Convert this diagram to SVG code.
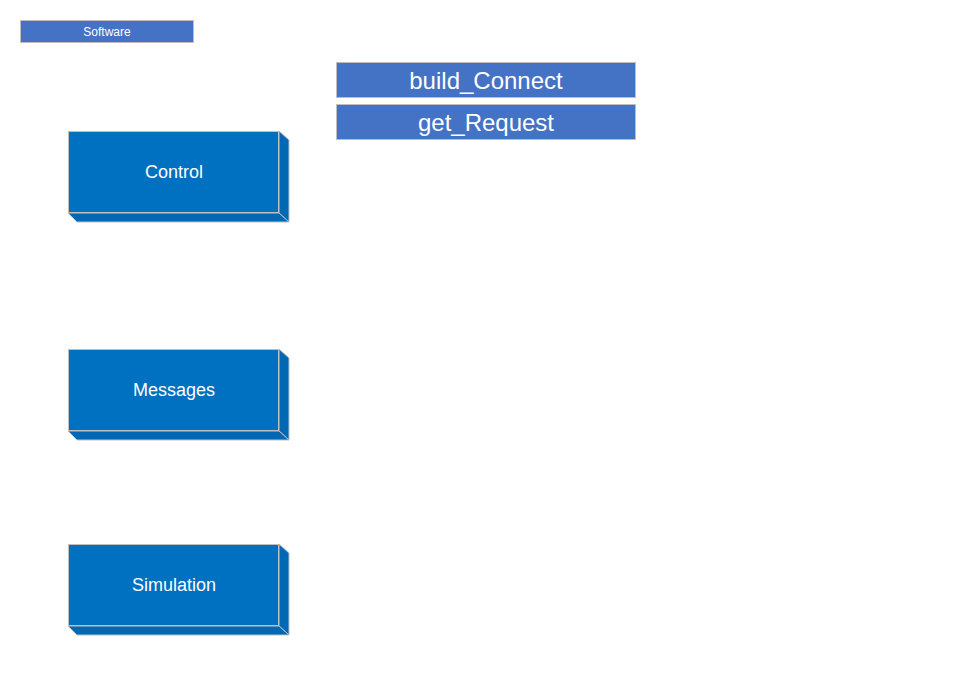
<svg xmlns="http://www.w3.org/2000/svg" width="961" height="678" viewBox="0 0 961 678">
<style>
.bar{fill:#4472C4;stroke:#BFBFBF;stroke-width:1}
.face{fill:#0070C0;stroke:#BFBFBF;stroke-width:1}
.side{fill:#0068B4;stroke:#BFBFBF;stroke-width:1}
.t{fill:#fff;font-family:"Liberation Sans",Arial,sans-serif;text-anchor:middle;dominant-baseline:central}
</style>
<rect width="961" height="678" fill="#fff"/>
<g id="software"><rect class="bar" x="20.5" y="20.5" width="173" height="22"/><text class="t" x="107" y="32" font-size="12">Software</text></g>
<g id="build_Connect"><rect class="bar" x="336.5" y="62.5" width="299" height="35"/><text class="t" x="486" y="80" font-size="24">build_Connect</text></g>
<g id="get_Request"><rect class="bar" x="336.5" y="104.5" width="299" height="35"/><text class="t" x="486" y="122" font-size="24">get_Request</text></g>
<g id="control">
<polygon class="side" points="279,131 289,140 289,222 279,213"/>
<polygon class="side" points="68,213 279,213 289,222 77,222"/>
<rect class="face" x="68.5" y="131.5" width="210" height="81"/>
<text class="t" x="174" y="172" font-size="18">Control</text></g>
<g id="messages">
<polygon class="side" points="279,349 289,358 289,440 279,431"/>
<polygon class="side" points="68,431 279,431 289,440 77,440"/>
<rect class="face" x="68.5" y="349.5" width="210" height="81"/>
<text class="t" x="174" y="390" font-size="18">Messages</text></g>
<g id="simulation">
<polygon class="side" points="279,544 289,553 289,635 279,626"/>
<polygon class="side" points="68,626 279,626 289,635 77,635"/>
<rect class="face" x="68.5" y="544.5" width="210" height="81"/>
<text class="t" x="174" y="585" font-size="18">Simulation</text></g>
<g id="connectors"></g>
</svg>
